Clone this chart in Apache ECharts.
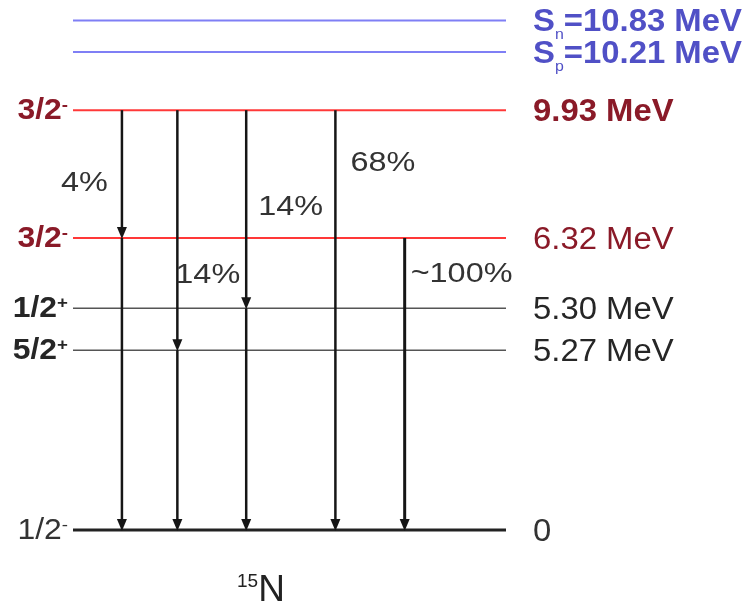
<!DOCTYPE html>
<html><head><meta charset="utf-8">
<script src="https://cdn.jsdelivr.net/npm/echarts@6/dist/echarts.min.js"></script>
<style>html,body{margin:0;padding:0;background:#fff}#c{width:749px;height:607px}</style>
</head><body><div id="c"></div>
<script>
// ---- data ----
const levelEnergies = [10.83, 10.21, 9.93, 6.32, 5.30, 5.27, 0];
const levelNames = ['n', 'p', '', '', '', '', ''];          // separation-energy subscripts
const levelSpins = ['', '', '3/2-', '3/2-', '1/2+', '5/2+', '1/2-'];
// drawn height of each level (the diagram is not to energy scale)
const levelHeights = [100, 93.8, 82.4, 57.3, 43.5, 35.3, 0];

const transitionPaths = [[9.93, 6.32, 0], [9.93, 5.27, 0], [9.93, 5.30, 0], [9.93, 0], [6.32, 0]];
const branchingRatios = ['4%', '14%', '14%', '68%', '~100%'];
const transitionColumns = [11.3, 24.1, 40.0, 60.6, 76.6];
const nucleusMass = '15';
const nucleusSymbol = 'N';

// ---- styles ----
const FONT = '"Liberation Sans", Arial, sans-serif';
const BLUE = {line: '#7f7ff5', lw: 2, color: '#5050c6', rw: 'bold', lwt: 'bold'};
const RED1 = {line: '#ff3838', lw: 2, color: '#8a1a28', rw: 'bold', lwt: 'bold'};
const RED2 = {line: '#ff3838', lw: 2, color: '#8a1a28', rw: 'normal', lwt: 'bold'};
const GRAY = {line: '#555555', lw: 1.5, color: '#262626', rw: 'normal', lwt: 'bold'};
const GND  = {line: '#222222', lw: 3, color: '#333333', rw: 'normal', lwt: 'normal'};
const levelStyles = [BLUE, BLUE, RED1, RED2, GRAY, GRAY, GND];
const ratioPlacement = [
  {dx: -14, dy: 73, align: 'right'},
  {dx: -2, dy: 165, align: 'left'},
  {dx: 12, dy: 97, align: 'left'},
  {dx: 15, dy: 53, align: 'left'},
  {dx: 6, dy: 36, align: 'left'}
];
const transitionWidths = [2.5, 2.5, 2.5, 2.5, 3];
const ARROW_COLOR = '#161616';

function heightOf(e) { return levelHeights[levelEnergies.indexOf(e)]; }

const chart = echarts.init(document.getElementById('c'), null, {renderer: 'canvas'});

const levelData = levelEnergies.map((e, i) => [0, levelHeights[i], 100, e]);
const transData = transitionPaths.map((p, i) => [transitionColumns[i], heightOf(p[0]), heightOf(p[p.length - 1])]);

function rightText(i) {
  const e = levelEnergies[i];
  if (levelNames[i]) return '{m|S}{sub|' + levelNames[i] + '}{m|=' + e.toFixed(2) + ' MeV}';
  if (e === 0) return '{m|0}';
  return '{m|' + e.toFixed(2) + ' MeV}';
}
function leftText(i) {
  const s = levelSpins[i];
  if (!s) return '';
  return '{m|' + s.slice(0, -1) + '}{sup|' + s.slice(-1) + '}';
}

const option = {
  animation: false,
  backgroundColor: '#ffffff',
  title: {
    text: '{sup|' + nucleusMass + '}{n|' + nucleusSymbol + '}',
    left: 237, top: 572, padding: 0,
    textStyle: {
      fontWeight: 'normal',
      rich: {
        sup: {fontSize: 19, fontFamily: FONT, fontWeight: 'normal', color: '#222', verticalAlign: 'top'},
        n: {fontSize: 37, fontFamily: FONT, fontWeight: 'normal', color: '#222'}
      }
    }
  },
  grid: {left: 73, right: 243, top: 20.5, bottom: 77},
  xAxis: {type: 'value', min: 0, max: 100, show: false},
  yAxis: {type: 'value', min: 0, max: 100, show: false},
  series: [
    {
      type: 'custom',
      clip: false,
      data: levelData,
      renderItem: function (params, api) {
        const i = params.dataIndex;
        const st = levelStyles[i];
        const p0 = api.coord([api.value(0), api.value(1)]);
        const p1 = api.coord([api.value(2), api.value(1)]);
        const children = [{
          type: 'line',
          shape: {x1: p0[0], y1: p0[1], x2: p1[0], y2: p1[1]},
          style: {stroke: st.line, lineWidth: st.lw}
        }, {
          type: 'text',
          x: p1[0] + 27, y: p1[1] + 2,
          scaleX: 1.06,
          style: {
            text: rightText(i), align: 'left', verticalAlign: 'middle',
            rich: {
              m: {fontSize: 31, fontFamily: FONT, fontWeight: st.rw, fill: st.color, color: st.color, lineHeight: 40},
              sub: {fontSize: 15, fontFamily: FONT, fontWeight: 'normal', fill: st.color, color: st.color, verticalAlign: 'bottom', lineHeight: 16}
            }
          }
        }];
        if (levelSpins[i]) {
          children.push({
            type: 'text',
            x: p0[0] - 5, y: p0[1] + 1,
            scaleX: 1.1,
            style: {
              text: leftText(i), align: 'right', verticalAlign: 'middle',
              rich: {
                m: {fontSize: 29, fontFamily: FONT, fontWeight: st.lwt, fill: st.color, color: st.color},
                sup: {fontSize: 17, fontFamily: FONT, fontWeight: st.lwt, fill: st.color, color: st.color, verticalAlign: 'top'}
              }
            }
          });
        }
        return {type: 'group', children: children};
      }
    },
    {
      type: 'custom',
      clip: false,
      data: transData,
      renderItem: function (params, api) {
        const i = params.dataIndex;
        const path = transitionPaths[i];
        const x = api.value(0);
        const children = [];
        for (let k = 0; k < path.length - 1; k++) {
          const a = api.coord([x, heightOf(path[k])]);
          const b = api.coord([x, heightOf(path[k + 1])]);
          children.push({
            type: 'line',
            shape: {x1: a[0], y1: a[1], x2: b[0], y2: b[1] - 6},
            style: {stroke: ARROW_COLOR, lineWidth: transitionWidths[i]}
          });
          const tip = b[1] + 1;
          children.push({
            type: 'polygon',
            shape: {points: [[b[0] - 5, tip - 12], [b[0] + 5, tip - 12], [b[0], tip]]},
            style: {fill: ARROW_COLOR}
          });
        }
        const top = api.coord([x, heightOf(path[0])]);
        const pl = ratioPlacement[i];
        children.push({
          type: 'text',
          x: top[0] + pl.dx, y: top[1] + pl.dy,
          scaleX: 1.2,
          style: {
            text: branchingRatios[i], align: pl.align, verticalAlign: 'middle',
            fontSize: 27, fontFamily: FONT, fill: '#333'
          }
        });
        return {type: 'group', children: children};
      }
    }
  ]
};
chart.setOption(option);
</script>
</body></html>
